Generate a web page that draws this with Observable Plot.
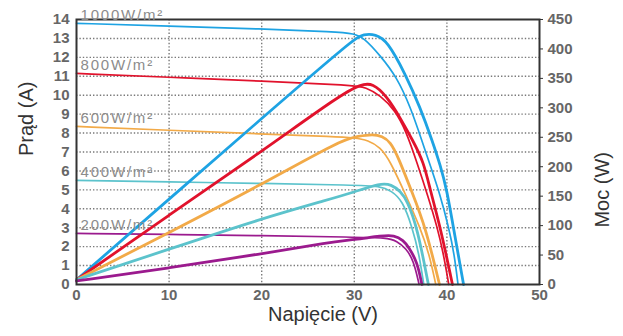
<!DOCTYPE html>
<html>
<head>
<meta charset="utf-8">
<script src="https://cdn.jsdelivr.net/npm/d3@7"></script>
<script src="https://cdn.jsdelivr.net/npm/@observablehq/plot@0.6"></script>
<style>
  html, body { margin: 0; padding: 0; background: #fff; }
</style>
</head>
<body>
<div id="chart"></div>
<script>
// Irradiance levels
const levels = ["1000W/m²", "800W/m²", "600W/m²", "400W/m²", "200W/m²"];

// Current–voltage curves: [voltage V, current A]
const iv1000 = [[0,13.8],[10,13.65],[20,13.5],[28,13.35],[30,13.25],[31,13.05],[32.8,12.1],[34.6,10.95],[36.07,9.37],[37.3,7.6],[38.2,6.29],[39.3,4.7],[40.2,3.0],[40.8,1.6],[41.2,0]];
const iv800  = [[0,11.15],[10,10.95],[20,10.75],[30,10.52],[31.2,10.42],[32.8,10.0],[34.4,9.2],[35.6,8.1],[36.8,6.4],[38.0,4.6],[38.95,3.03],[39.6,1.7],[40.2,0]];
const iv600  = [[0,8.35],[10,8.15],[20,7.95],[28,7.82],[30,7.75],[31.5,7.62],[32.8,7.25],[33.9,6.5],[35.5,4.79],[37.1,3.03],[38.1,1.6],[38.8,0]];
const iv400  = [[0,5.5],[10,5.42],[20,5.34],[30,5.25],[32.8,5.2],[34,4.95],[35.2,4.44],[36.25,3.03],[37.0,1.6],[37.5,0]];
const iv200  = [[0,2.7],[10,2.65],[20,2.58],[30,2.5],[33.5,2.47],[34.6,2.3],[35.6,1.9],[36.4,1.27],[37.0,0]];

// Power–voltage curves: [voltage V, power W]
const pv1000 = [[0,8],[10,145],[20,282],[30,418],[31,425],[32.3,425],[33.55,414],[35.5,358],[37.1,301],[38.4,245],[39.3,202],[40.0,160],[40.7,97],[41.8,0]];
const pv800  = [[0,8],[10,118],[20,226],[28.5,322],[30.7,340],[32,342],[33.5,320],[35,282],[36.3,245],[37.5,208],[38.2,160],[39.3,97],[40.6,0]];
const pv600  = [[0,8],[10,88],[20,170],[28.5,245],[30.5,252],[32,255],[33,252],[33.9,242],[34.7,218],[36.25,156],[37.7,97],[39.2,0]];
const pv400  = [[0,8],[10,60],[20,112],[27.4,145],[30,157],[32.8,172],[34,170],[35.0,158],[35.7,143],[36.8,97],[38.0,0]];
const pv200  = [[0,6],[10,28],[20,52],[27.4,72],[30,76],[33,83],[34.3,84],[35.3,75],[35.9,63],[36.8,38],[37.3,0]];

// Tick labels
const voltageTicks = [0, 10, 20, 30, 40, 50];
const currentTicks = [0,1,2,3,4,5,6,7,8,9,10,11,12,13,14];
const powerTicks = [0, 50, 100, 150, 200, 250, 300, 350, 400, 450];

const ivSets = [iv1000, iv800, iv600, iv400, iv200];
const pvSets = [pv1000, pv800, pv600, pv400, pv200];

const ivRows = ivSets.flatMap((s, k) => s.map(([V, I]) => ({level: levels[k], V, I})));
const pvRows = pvSets.flatMap((s, k) => s.map(([V, P]) => ({level: levels[k], V, P})));
const labelRows = ivSets.map((s, k) => ({level: levels[k], V: s[0][0], I: s[0][1]}));

const iMax = 14, pMax = 450;
const toY = p => p * iMax / pMax;

const tickFont = {fontSize: 15, fontWeight: "bold", fill: "#666"};
const gridStyle = {stroke: "#7a7a7a", strokeOpacity: 1, strokeWidth: 1.4, strokeDasharray: "1.4,2"};

const chart = Plot.plot({
  width: 623,
  height: 336,
  marginLeft: 76,
  marginRight: 84,
  marginTop: 19,
  marginBottom: 52,
  style: {fontFamily: "'Liberation Sans', Arial, sans-serif", background: "#fff"},
  x: {domain: [0, 50]},
  y: {domain: [0, iMax]},
  color: {domain: levels, range: ["#1ea3e3", "#e1122c", "#f2aa48", "#5cc3cc", "#9b1a8e"]},
  marks: [
    Plot.gridX([10, 20, 30, 40], gridStyle),
    Plot.gridY(currentTicks.slice(1, -1), gridStyle),
    Plot.line(ivRows, {x: "V", y: "I", z: "level", stroke: "level", strokeWidth: 1.7, curve: "basis"}),
    Plot.line(pvRows, {x: "V", y: d => toY(d.P), z: "level", stroke: "level", strokeWidth: 2.8, curve: "basis"}),
    Plot.frame({stroke: "#333", strokeWidth: 2}),
    Plot.axisX(voltageTicks, {tickSize: 0, tickPadding: 5, label: null, ...tickFont}),
    Plot.axisY(currentTicks, {anchor: "left", tickSize: 0, tickPadding: 7, label: null, ...tickFont}),
    Plot.axisY(powerTicks.map(toY), {anchor: "right", tickSize: 3, tickPadding: 5, stroke: "#333",
      tickFormat: d => String(Math.round(d * pMax / iMax)), label: null, ...tickFont}),
    Plot.text(labelRows, {x: "V", y: "I", text: "level", textAnchor: "start", lineAnchor: "bottom",
      dx: 4, dy: -3, fontSize: 15, fill: "#8c8c8c", ariaDescription: "irradiance"}),
    Plot.text(["Prąd (A)"], {frameAnchor: "left", dx: -50, dy: 4, rotate: -90, fontSize: 20, fill: "#333"}),
    Plot.text(["Moc (W)"], {frameAnchor: "right", dx: 63, rotate: -90, fontSize: 20, fill: "#333"}),
    Plot.text(["Napięcie (V)"], {frameAnchor: "bottom", dx: 15, dy: 36, fontSize: 20, fill: "#333"})
  ]
});

document.getElementById("chart").appendChild(chart);
chart.querySelectorAll('g[aria-description="irradiance"]').forEach(g => g.style.letterSpacing = "1.8px");
</script>
</body>
</html>
